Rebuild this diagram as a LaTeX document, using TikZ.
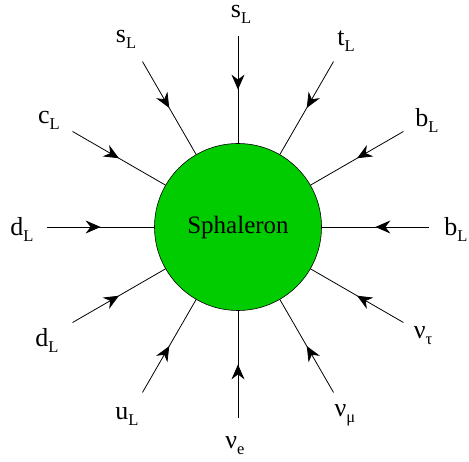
\documentclass[tikz,border=0pt]{standalone}
\usepackage{fontspec}
\setmainfont{Liberation Serif}
\usetikzlibrary{arrows.meta,decorations.markings,calc}
\definecolor{sphgreen}{RGB}{0,204,0}
\newcommand\psub[1]{\raisebox{-6pt}{\fontsize{16.5}{16.5}\selectfont #1}}
\begin{document}
\begin{tikzpicture}[x=1pt,y=1pt,
  lbl/.style={font=\fontsize{26}{30}\selectfont, inner sep=0pt},
  leg/.style={line width=0.8pt, postaction={decorate},
    decoration={markings, mark=at position 0.5 with {\arrow{Stealth[length=15pt,width=13pt,inset=5pt]}}}}]
\useasboundingbox (0,0) rectangle (469,461);
\node[circle, draw, line width=0.6pt, fill=sphgreen, minimum size=167pt, inner sep=0pt,
  font=\fontsize{25}{30}\selectfont] (sph) at (238,234) {Sphaleron};
\foreach \a in {0,30,...,330}{
  \coordinate (e\a) at ($(sph.center)+(\a:191)$);
  \draw[leg] (e\a) -- (sph);
}
\node[lbl] (l90)  at (241,447) {s\psub{L}};
\node[lbl] (l120) at (126,422) {s\psub{L}};
\node[lbl] (l60)  at (346,420) {t\psub{L}};
\node[lbl] (l150) at (49,341)  {c\psub{L}};
\node[lbl] (l30)  at (427,341) {b\psub{L}};
\node[lbl] (l180) at (22,232)  {d\psub{L}};
\node[lbl] (l0)   at (456,232) {b\psub{L}};
\node[lbl] (l210) at (47,121)  {d\psub{L}};
\node[lbl] (l330) at (423,125) {ν\psub{τ}};
\node[lbl] (l240) at (127,44)  {u\psub{L}};
\node[lbl] (l300) at (345,46)  {ν\psub{μ}};
\node[lbl] (l270) at (235,15)  {ν\psub{e}};
\end{tikzpicture}
\end{document}
